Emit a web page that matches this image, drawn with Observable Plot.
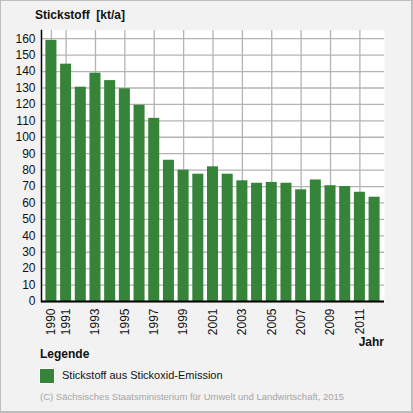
<!DOCTYPE html>
<html>
<head>
<meta charset="utf-8">
<script src="https://cdn.jsdelivr.net/npm/d3@7"></script>
<script src="https://cdn.jsdelivr.net/npm/@observablehq/plot@0.6"></script>
<style>
  body { margin: 0; font-family: "Liberation Sans", Arial, sans-serif; }
  #box {
    position: relative; width: 413px; height: 413px; box-sizing: border-box;
    background: #f2f2f2; border: 1px solid #bdbdbd; border-right-width: 2px; border-bottom-width: 2px;
  }
  #chart { position: absolute; left: -1px; top: -1px; }
  .lbl { position: absolute; font-size: 12px; color: #111; white-space: nowrap; }
  .bold { font-weight: bold; }
</style>
</head>
<body>
<div id="box">
  <div id="chart"></div>
  <div class="lbl bold" style="left:34px; top:7px;">Stickstoff&nbsp; [kt/a]</div>
  <div class="lbl bold" style="right:27px; top:334px;">Jahr</div>
  <div class="lbl bold" style="left:39px; top:346px;">Legende</div>
  <div style="position:absolute; left:38px; top:367px; width:14px; height:14px; background:#35843a; border:1px solid #fff;"></div>
  <div class="lbl" style="left:61px; top:368px; font-size:11px;">Stickstoff aus Stickoxid-Emission</div>
  <div class="lbl" style="left:39px; top:390px; font-size:9.5px; color:#a6a6a6;">(C) Sächsisches Staatsministerium für Umwelt und Landwirtschaft, 2015</div>
</div>
<script>
const years = [1990, 1991, 1992, 1993, 1994, 1995, 1996, 1997, 1998, 1999, 2000,
  2001, 2002, 2003, 2004, 2005, 2006, 2007, 2008, 2009, 2010, 2011, 2012];
const stickstoff = [159, 144.5, 130.5, 139, 134.5, 129.5, 119.5, 111.5, 86, 80, 77.5,
  82, 77.5, 73.5, 72, 72.5, 72, 68, 74, 70.5, 70, 66.5, 63.5];
const yearTicks = [1990, 1991, 1993, 1995, 1997, 1999, 2001, 2003, 2005, 2007, 2009, 2011];
const yTicks = d3.range(0, 161, 10);

const data = years.map((year, i) => ({year, value: stickstoff[i]}));

const chart = Plot.plot({
  width: 386,
  height: 336,
  marginLeft: 41,
  marginRight: 2,
  marginTop: 30,
  marginBottom: 35,
  style: {fontFamily: "Liberation Sans, Arial, sans-serif", fontSize: "12px", color: "#111", background: "transparent"},
  x: {type: "band", domain: years, paddingInner: 0.25, paddingOuter: 0.3, round: false},
  y: {domain: [0, 165]},
  marks: [
    Plot.frame({fill: "white", stroke: null}),
    Plot.gridY(yTicks, {stroke: "#b4b4b4", strokeOpacity: 1, strokeWidth: 1.3}),
    Plot.gridX(yearTicks, {stroke: "#b4b4b4", strokeOpacity: 1, strokeWidth: 1.3}),
    Plot.barY(data, {x: "year", y: "value", fill: "#35843a"}),
    Plot.axisY(yTicks, {tickSize: 0, tickPadding: 6, label: null}),
    Plot.axisX(yearTicks, {tickSize: 0, tickPadding: 7, tickRotate: -90, tickFormat: String, label: null}),
    Plot.ruleY([0], {stroke: "black", strokeWidth: 2}),
    Plot.frame({anchor: "left", stroke: "black", strokeWidth: 1.5})
  ]
});
document.getElementById("chart").appendChild(chart);
</script>
</body>
</html>
